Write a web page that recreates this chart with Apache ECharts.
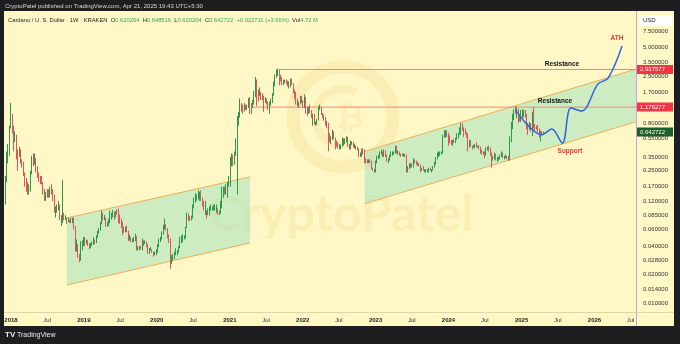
<!DOCTYPE html>
<html><head><meta charset="utf-8">
<script src="https://cdn.jsdelivr.net/npm/echarts@6/dist/echarts.min.js"></script>
<style>html,body{margin:0;padding:0;background:#1e1e21;}#c{width:680px;height:344px;}</style>
</head><body><div id="c"></div>
<script>
// ---- DATA ----
const startWeek = '2017-12-04';   // Monday of first weekly candle
const firstOpen = 0.12;
const close = [
0.20,0.38,0.40,0.72,
0.90,0.70,0.55,0.58,0.40, 0.38,0.40,0.32,0.29, 0.23,0.20,0.18,0.15, 0.17,0.24,0.33,0.30,0.33, 0.28,0.23,0.21,0.20, 0.19,0.15,0.13,0.14, 0.15,0.14,0.16,0.15,0.13, 0.10,0.10,0.10,0.10, 0.08,0.08,0.09,0.08, 0.08,0.075,0.075,0.072,0.073, 0.077,0.064,0.040,0.040, 0.032,0.029,0.041,0.041,
0.045,0.044,0.045,0.042,0.039, 0.042,0.042,0.045,0.044, 0.050,0.055,0.060,0.070, 0.085,0.077,0.080,0.068,0.068, 0.075,0.080,0.085,0.090, 0.082,0.092,0.090,0.082, 0.072,0.070,0.060,0.058,0.060, 0.058,0.050,0.050,0.046, 0.046,0.048,0.050,0.038,0.038, 0.039,0.038,0.044,0.043, 0.044,0.041,0.035,0.037, 0.037,0.035,0.033,0.033,
0.035,0.040,0.045,0.048,0.054, 0.063,0.065,0.062,0.050, 0.045,0.028,0.030,0.030,0.032, 0.034,0.035,0.039,0.046, 0.048,0.050,0.050,0.062, 0.082,0.080,0.078,0.079,0.10, 0.125,0.125,0.135,0.14, 0.14,0.12,0.11,0.10,0.10, 0.087,0.092,0.10,0.10, 0.10,0.10,0.10,0.10, 0.087,0.090,0.11,0.13,0.16, 0.15,0.17,0.18,0.20,
0.32,0.33,0.30,0.37, 0.54,0.82,1.00,1.22, 1.20,1.10,1.22,1.20,1.20, 1.40,1.25,1.15,1.35, 1.72,2.20,1.70,1.60,1.65, 1.60,1.45,1.40,1.40, 1.30,1.20,1.30,1.40, 1.60,2.00,2.50,2.80,2.80, 2.40,2.35,2.10,2.20, 2.20,2.15,1.95,2.00, 2.25,2.05,1.80,1.55,1.40, 1.30,1.30,1.45,1.35,
1.20,1.45,1.15,1.05,1.10, 1.05,0.95,0.95,0.80, 0.80,0.85,1.15,1.15, 0.98,0.95,0.88,0.78, 0.73,0.55,0.52,0.55,0.62, 0.55,0.48,0.47,0.45, 0.45,0.46,0.49,0.53, 0.53,0.55,0.47,0.45,0.50, 0.50,0.45,0.46,0.43, 0.42,0.36,0.37,0.40,0.39, 0.33,0.31,0.31,0.32, 0.31,0.27,0.25,0.25,
0.31,0.34,0.35,0.38,0.39, 0.37,0.40,0.36,0.32, 0.33,0.35,0.37,0.38, 0.39,0.45,0.39,0.39, 0.37,0.36,0.37,0.37,0.36, 0.26,0.27,0.29,0.29, 0.28,0.32,0.31,0.30,0.29, 0.29,0.26,0.26,0.25, 0.25,0.25,0.25,0.26, 0.25,0.25,0.27,0.29,0.34, 0.37,0.37,0.38,0.38, 0.57,0.60,0.62,0.59,
0.53,0.52,0.48,0.51,0.50, 0.54,0.58,0.62,0.70, 0.77,0.72,0.66,0.63, 0.58,0.48,0.51,0.46,0.45, 0.45,0.46,0.45,0.45, 0.44,0.41,0.39,0.39, 0.37,0.42,0.44,0.43,0.38, 0.34,0.34,0.38,0.33, 0.34,0.34,0.36,0.38,0.35, 0.35,0.35,0.34,0.33, 0.52,0.73,0.92,1.05, 1.04,1.12,0.90,0.84,0.95,
0.98,1.00,0.95,0.75, 0.72,0.78,0.75,0.96, 0.74,0.72,0.71,0.65, 0.59,0.65,0.620204,0.642722
];
const high = [
0.22,0.40,0.48,0.75,
1.30,1.00,0.75,0.65,0.60, 0.42,0.45,0.42,0.33, 0.31,0.24,0.21,0.19, 0.18,0.25,0.36,0.38,0.38, 0.34,0.28,0.24,0.22, 0.22,0.19,0.16,0.15, 0.16,0.16,0.17,0.18,0.16, 0.14,0.105,0.11,0.12, 0.11,0.085,0.20,0.09, 0.085,0.08,0.08,0.076,0.08, 0.08,0.08,0.065,0.047, 0.042,0.033,0.045,0.046,
0.05,0.05,0.047,0.046,0.043, 0.043,0.045,0.050,0.047, 0.052,0.058,0.062,0.072, 0.095,0.09,0.085,0.08,0.072, 0.078,0.095,0.090,0.096, 0.092,0.094,0.098,0.10, 0.086,0.078,0.072,0.064,0.064, 0.066,0.058,0.053,0.050, 0.048,0.050,0.054,0.051,0.040, 0.040,0.040,0.048,0.046, 0.046,0.045,0.042,0.038, 0.039,0.037,0.035,0.035,
0.037,0.042,0.048,0.050,0.057, 0.067,0.078,0.068,0.062, 0.053,0.048,0.032,0.033,0.035, 0.038,0.036,0.040,0.050, 0.052,0.053,0.052,0.064, 0.090,0.088,0.083,0.084,0.11, 0.13,0.145,0.14,0.155, 0.15,0.155,0.13,0.12,0.12, 0.095,0.10,0.105,0.11, 0.105,0.11,0.11,0.11, 0.10,0.095,0.12,0.17,0.17, 0.17,0.18,0.19,0.22,
0.35,0.38,0.37,0.40, 0.55,0.95,1.05,1.45, 1.30,1.25,1.30,1.25,1.25, 1.47,1.50,1.30,1.40, 1.75,2.45,2.30,1.80,1.90, 1.70,1.65,1.55,1.50, 1.45,1.35,1.35,1.45, 1.65,2.20,2.60,2.95,3.00, 2.95,2.60,2.45,2.30, 2.30,2.30,2.25,2.20, 2.35,2.35,2.10,1.80,1.70, 1.45,1.35,1.55,1.55,
1.40,1.60,1.50,1.20,1.18, 1.25,1.10,1.00,1.00, 0.83,0.88,1.20,1.25, 1.18,1.02,0.98,0.92, 0.84,0.80,0.62,0.58,0.68, 0.65,0.56,0.52,0.50, 0.48,0.47,0.56,0.55, 0.55,0.58,0.57,0.48,0.52, 0.51,0.50,0.48,0.46, 0.45,0.43,0.39,0.43,0.43, 0.42,0.34,0.33,0.33, 0.33,0.32,0.27,0.26,
0.32,0.36,0.37,0.40,0.42, 0.40,0.42,0.41,0.37, 0.34,0.37,0.40,0.40, 0.40,0.46,0.46,0.41, 0.40,0.38,0.38,0.38,0.38, 0.37,0.28,0.30,0.30, 0.30,0.34,0.33,0.32,0.31, 0.30,0.29,0.27,0.28, 0.26,0.26,0.26,0.27, 0.27,0.26,0.28,0.31,0.35, 0.39,0.40,0.40,0.40, 0.60,0.67,0.67,0.67,
0.63,0.59,0.53,0.53,0.54, 0.56,0.62,0.63,0.72, 0.80,0.80,0.72,0.70, 0.64,0.62,0.53,0.53,0.46, 0.47,0.48,0.50,0.46, 0.47,0.45,0.42,0.40, 0.40,0.44,0.45,0.46,0.44, 0.39,0.36,0.39,0.38, 0.35,0.35,0.37,0.40,0.39, 0.36,0.37,0.36,0.36, 0.58,0.82,1.00,1.12, 1.20,1.18,1.13,0.94,1.10,
1.12,1.10,1.10,1.00, 0.80,0.82,0.80,1.05, 1.18,0.78,0.75,0.76, 0.70,0.66,0.66,0.648516
];
const low = [
0.11,0.19,0.30,0.36,
0.70,0.62,0.40,0.50,0.33, 0.25,0.35,0.30,0.27, 0.22,0.17,0.15,0.14, 0.14,0.15,0.23,0.28,0.29, 0.24,0.21,0.19,0.18, 0.18,0.14,0.12,0.12, 0.13,0.13,0.13,0.14,0.12, 0.09,0.08,0.09,0.095, 0.075,0.065,0.07,0.075, 0.075,0.068,0.072,0.07,0.07, 0.07,0.06,0.035,0.035, 0.030,0.027,0.028,0.036,
0.040,0.040,0.042,0.040,0.037, 0.038,0.040,0.041,0.042, 0.043,0.049,0.054,0.058, 0.068,0.074,0.075,0.064,0.064, 0.065,0.070,0.076,0.080, 0.076,0.080,0.086,0.070, 0.068,0.062,0.052,0.055,0.056, 0.056,0.045,0.046,0.044, 0.044,0.044,0.045,0.036,0.036, 0.036,0.037,0.036,0.040, 0.042,0.039,0.033,0.033, 0.036,0.034,0.031,0.032,
0.032,0.034,0.039,0.044,0.047, 0.053,0.060,0.058,0.048, 0.043,0.023,0.026,0.028,0.029, 0.032,0.032,0.034,0.038, 0.043,0.044,0.047,0.048, 0.062,0.074,0.073,0.075,0.078, 0.10,0.115,0.12,0.125, 0.12,0.12,0.105,0.095,0.085, 0.078,0.085,0.084,0.095, 0.094,0.096,0.095,0.09, 0.085,0.085,0.088,0.10,0.13, 0.14,0.14,0.13,0.17,
0.17,0.28,0.28,0.29, 0.36,0.14,0.75,0.91, 1.05,1.00,1.06,1.10,1.10, 1.15,1.00,0.99,1.15, 1.25,1.50,1.20,1.35,1.55, 1.40,1.40,1.05,1.30, 1.25,1.10,1.00,1.22, 1.30,1.55,1.95,2.40,2.50, 2.00,2.20,2.00,2.00, 2.10,2.05,1.95,1.85, 1.90,2.00,1.65,1.45,1.25, 1.20,1.15,1.25,1.30,
1.15,1.15,1.00,0.95,1.00, 1.02,0.90,0.75,0.78, 0.75,0.76,0.85,1.10, 0.97,0.90,0.85,0.75, 0.70,0.40,0.50,0.48,0.53, 0.54,0.42,0.45,0.43, 0.42,0.42,0.45,0.46, 0.48,0.50,0.45,0.42,0.42, 0.47,0.44,0.43,0.42, 0.41,0.35,0.35,0.35,0.37, 0.30,0.30,0.30,0.30, 0.30,0.26,0.25,0.24,
0.24,0.30,0.33,0.34,0.37, 0.35,0.35,0.35,0.31, 0.30,0.32,0.35,0.36, 0.37,0.38,0.38,0.37, 0.36,0.35,0.36,0.35,0.35, 0.24,0.24,0.26,0.27, 0.27,0.27,0.30,0.29,0.28, 0.28,0.24,0.25,0.25, 0.24,0.24,0.24,0.24, 0.25,0.24,0.25,0.27,0.29, 0.33,0.35,0.36,0.37, 0.38,0.56,0.56,0.57,
0.46,0.49,0.47,0.46,0.49, 0.49,0.53,0.55,0.60, 0.60,0.66,0.57,0.61, 0.56,0.40,0.44,0.45,0.42, 0.44,0.43,0.44,0.44, 0.42,0.38,0.37,0.37, 0.34,0.36,0.41,0.40,0.36, 0.27,0.32,0.33,0.32, 0.31,0.32,0.33,0.35,0.34, 0.33,0.34,0.33,0.32, 0.32,0.50,0.69,0.86, 1.00,0.90,0.80,0.83,0.82,
0.91,0.92,0.91,0.68, 0.60,0.68,0.65,0.58, 0.70,0.66,0.68,0.64, 0.56,0.51,0.60,0.620204
];
const headerStats = {change:'+0.022711', pct:'+3.66%', volume:'4.72 M'};
const yTicks = [7.5,5,3.5,2.5,1.7,0.8,0.55,0.35,0.25,0.17,0.12,0.085,0.06,0.04,0.028,0.02,0.014,0.01];
const xTicks = ['2018-01-01','2018-07-01','2019-01-01','2019-07-01','2020-01-01','2020-07-01','2021-01-01','2021-07-01','2022-01-01','2022-07-01','2023-01-01','2023-07-01','2024-01-01','2024-07-01','2025-01-01','2025-07-01','2026-01-01','2026-07-01'];
const channels = [
  {from:'2018-10-08', to:'2021-04-12', upper:[0.0793,0.215], lower:[0.0155,0.0432]},
  {from:'2022-11-07', to:'2026-07-28', upper:[0.40,2.97], lower:[0.112,0.824]}
];
const levels = [{from:'2021-09-06', value:2.937577}, {from:'2021-04-26', value:1.176277}];
const projection = [
  ['2024-12-02',1.10],['2025-04-12',0.60],['2025-06-01',0.69],['2025-07-24',0.49],
  ['2025-09-05',1.15],['2025-10-28',1.07],['2026-01-19',2.07],['2026-03-11',2.39],['2026-05-19',5.2]
];
const notes = [
  {text:'Resistance', x:562, y:64, color:'#111'},
  {text:'Resistance', x:555, y:101, color:'#111'},
  {text:'Support', x:570, y:151, color:'#e53935'},
  {text:'ATH', x:617, y:38, color:'#e53935'}
];
const xMin = '2017-11-27', xMax = '2026-07-28';
const yMin = 0.00804, yMax = 12.2;

// ---- BUILD ----
const L = v => Math.log10(v);
const WEEK = 7*86400000;
const t0 = Date.parse(startWeek);
const candles = close.map((c,i)=>{
  const o = i===0 ? firstOpen : close[i-1];
  return [t0 + i*WEEK, L(o), L(c), L(low[i]), L(high[i])];
});
const n = close.length;
const lastO = close[n-2], lastC = close[n-1];
const FONT = 'Liberation Sans, Arial, sans-serif';

const series = [];
series.push({
  type:'custom', z:1, silent:true, clip:true,
  data: channels.map(c=>[Date.parse(c.from), Date.parse(c.to), L(c.upper[0]), L(c.upper[1]), L(c.lower[0]), L(c.lower[1])]),
  encode:{x:[0,1], y:[2,3,4,5]},
  renderItem:(p, api)=>{
    const a = api.coord([api.value(0), api.value(2)]);
    const b = api.coord([api.value(1), api.value(3)]);
    const c = api.coord([api.value(1), api.value(5)]);
    const d = api.coord([api.value(0), api.value(4)]);
    return {type:'polygon', shape:{points:[a,b,c,d]}, style:{fill:'rgba(166,226,190,0.55)'}};
  }
});
channels.forEach(c=>{
  ['upper','lower'].forEach(k=>{
    series.push({type:'line', z:2, silent:true, showSymbol:false,
      data:[[Date.parse(c.from), L(c[k][0])],[Date.parse(c.to), L(c[k][1])]],
      lineStyle:{color:'#eeb055', width:1}});
  });
});
levels.forEach(l=>{
  series.push({type:'line', z:2, silent:true, showSymbol:false,
    data:[[Date.parse(l.from), L(l.value)],[Date.parse(xMax), L(l.value)]],
    lineStyle:{color:'#f2867c', width:1}});
});
series.push({
  type:'candlestick', z:3, barWidth:1,
  data: candles, encode:{x:0, y:[1,2,3,4]},
  itemStyle:{color:'#2b9a4a', color0:'#e0555a', borderColor:'#2b9a4a', borderColor0:'#e0555a', borderWidth:1}
});
series.push({
  type:'line', z:4, smooth:0.35, showSymbol:false, silent:true,
  data: projection.map(p=>[Date.parse(p[0]), L(p[1])]),
  lineStyle:{color:'#3563dc', width:1.5}
});

const chart = echarts.init(document.getElementById('c'), null, {renderer:'canvas'});
const option = {
  animation:false,
  backgroundColor:'#fff8c6',
  grid:{left:4, right:44, top:11, bottom:32, outerBoundsMode:'none'},
  xAxis:{
    type:'value', min:Date.parse(xMin), max:Date.parse(xMax),
    axisLine:{show:false}, axisTick:{show:false}, splitLine:{show:false},
    axisLabel:{
      customValues: xTicks.map(s=>Date.parse(s)),
      fontSize:6, color:'#333', fontFamily:FONT, margin:5,
      formatter:(v)=>{ const d=new Date(v); return d.getUTCMonth()===0 ? '{b|'+d.getUTCFullYear()+'}' : 'Jul'; },
      rich:{b:{fontWeight:'bold', fontSize:6, color:'#222', fontFamily:FONT}}
    }
  },
  yAxis:{
    type:'value', position:'right', min:L(yMin), max:L(yMax),
    axisLine:{show:false}, axisTick:{show:false}, splitLine:{show:false},
    axisLabel:{
      customValues: yTicks.map(L),
      fontSize:6, color:'#333', fontFamily:FONT, margin:7,
      formatter:v=>Math.pow(10,v).toFixed(6)
    }
  },
  series
};
chart.setOption(option);

// ---- graphics ----
const G = [];
const wm = 'rgba(235,198,110,0.20)';
G.push({type:'circle', z:0, silent:true, shape:{cx:343, cy:117, r:50}, style:{fill:'none', stroke:wm, lineWidth:13}});
G.push({type:'arc', z:0, silent:true, shape:{cx:343, cy:117, r:28, startAngle:Math.PI*0.35, endAngle:Math.PI*1.65, clockwise:true}, style:{fill:'none', stroke:wm, lineWidth:8}});
G.push({type:'text', z:0, silent:true, x:350, y:119, style:{text:'₿', fontSize:34, fontWeight:'bold', fill:'rgba(235,198,110,0.16)', align:'center', verticalAlign:'middle', fontFamily:FONT}});
G.push({type:'text', z:0, silent:true, x:341, y:215, style:{text:'CryptoPatel', fontSize:50, fontWeight:'bold', fill:'rgba(232,200,115,0.20)', align:'center', verticalAlign:'middle', fontFamily:'Lato, '+FONT}});
// frame
G.push({type:'rect', z:50, silent:true, shape:{x:0,y:0,width:680,height:11}, style:{fill:'#1e1e21'}});
G.push({type:'rect', z:50, silent:true, shape:{x:0,y:0,width:4,height:344}, style:{fill:'#1e1e21'}});
G.push({type:'rect', z:50, silent:true, shape:{x:674,y:0,width:6,height:344}, style:{fill:'#1e1e21'}});
G.push({type:'rect', z:50, silent:true, shape:{x:0,y:326,width:680,height:18}, style:{fill:'#1e1e21'}});
G.push({type:'line', z:40, silent:true, shape:{x1:4,y1:312.5,x2:674,y2:312.5}, style:{stroke:'#e2d6a2', lineWidth:1}});
G.push({type:'line', z:40, silent:true, shape:{x1:636.5,y1:11,x2:636.5,y2:326}, style:{stroke:'#c9a3d8', lineWidth:1}});
G.push({type:'text', z:51, x:5, y:6, style:{text:'CryptoPatel published on TradingView.com, Apr 21, 2025 19:43 UTC+5:30', fontSize:6, fill:'#d8d8d8', verticalAlign:'middle', fontFamily:FONT}});
G.push({type:'text', z:51, x:8, y:20, style:{
  text:'{t|Cardano / U. S. Dollar · 1W · KRAKEN}  {k|O}{v|'+lastO.toFixed(6)+'}  {k|H}{v|'+high[n-1].toFixed(6)+'}  {k|L}{v|'+low[n-1].toFixed(6)+'}  {k|C}{v|'+lastC.toFixed(6)+'}  {v|'+headerStats.change+' ('+headerStats.pct+')}  {k|Vol}{v|'+headerStats.volume+'}',
  verticalAlign:'middle', fontFamily:FONT, fontSize:5.8,
  rich:{t:{fill:'#222', fontSize:5.8, fontFamily:FONT}, k:{fill:'#222', fontSize:5.8, fontFamily:FONT}, v:{fill:'#3aa655', fontSize:5.8, fontFamily:FONT}}
}});
G.push({type:'text', z:51, x:5, y:335, style:{text:'TV', fontSize:8, fontWeight:'bold', fill:'#f0f0f0', verticalAlign:'middle', fontFamily:FONT}});
G.push({type:'text', z:51, x:17, y:335, style:{text:'TradingView', fontSize:7, fill:'#e8e8e8', verticalAlign:'middle', fontFamily:FONT}});
// USD box
G.push({type:'rect', z:45, shape:{x:640,y:15,width:32,height:11}, style:{fill:'#ffffff'}});
G.push({type:'text', z:46, x:643, y:20.5, style:{text:'USD', fontSize:6, fill:'#222', verticalAlign:'middle', fontFamily:FONT}});
// level boxes
const boxes = [
  {v:levels[0].value, fill:'#f23645'},
  {v:levels[1].value, fill:'#f23645'},
  {v:lastC, fill:'#1e5e2a'}
];
boxes.forEach(b=>{
  const y = chart.convertToPixel({yAxisIndex:0}, L(b.v));
  G.push({type:'rect', z:45, shape:{x:637,y:y-4.5,width:36,height:9}, style:{fill:b.fill}});
  G.push({type:'text', z:46, x:640, y:y, style:{text:b.v.toFixed(6), fontSize:6, fill:'#fff', verticalAlign:'middle', fontFamily:FONT}});
});
notes.forEach(nn=>{
  G.push({type:'text', z:20, x:nn.x, y:nn.y, style:{text:nn.text, fontSize:6.5, fontWeight:'bold', fill:nn.color, align:'center', verticalAlign:'middle', fontFamily:FONT}});
});
chart.setOption({graphic:{elements:G}});
</script></body></html>
